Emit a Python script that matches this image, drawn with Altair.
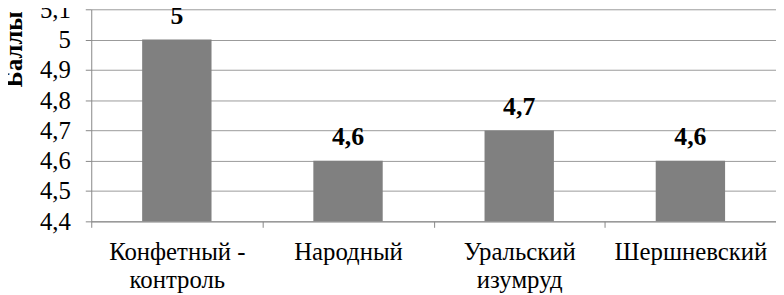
import altair as alt
import pandas as pd

categories = ["Конфетный -\nконтроль", "Народный", "Уральский\nизумруд", "Шершневский"]
values = [5.0, 4.6, 4.7, 4.6]
value_labels = ["5", "4,6", "4,7", "4,6"]
y_ticks = [4.4, 4.5, 4.6, 4.7, 4.8, 4.9, 5.0, 5.1]

df = pd.DataFrame({"cat": categories, "val": values, "lab": value_labels})

FONT = "Liberation Serif"

x_axis = alt.Axis(
    title=None,
    labelAngle=0,
    labelExpr="split(datum.label, '\\n')",
    labelLineHeight=29,
    labelPadding=12,
    labelBaseline="top",
    labelOverlap=False,
    labelSeparation=-10,
    tickBand="extent",
    grid=False,
)

y_axis = alt.Axis(
    title="Баллы",
    titleAngle=-90,
    titleX=-70,
    titleY=40,
    titleAlign="center",
    titleBaseline="alphabetic",
    values=y_ticks,
    labelExpr="replace(format(datum.value, '.1~f'), '.', ',')",
    labelPadding=15,
    labelOverlap=False,
    labelSeparation=-12,
    labelFlush=False,
    gridColor="#9a9a9a",
    gridWidth=1,
)

x_scale = alt.Scale(paddingInner=0, paddingOuter=0)
y_scale = alt.Scale(domain=[4.4, 5.1], nice=False, zero=False)

bars = alt.Chart(df).mark_bar(color="#808080", size=70, clip=True).encode(
    x=alt.X("cat:N", sort=categories, scale=x_scale, axis=x_axis),
    y=alt.Y("val:Q", scale=y_scale, axis=y_axis),
)

texts = alt.Chart(df).mark_text(
    baseline="alphabetic", dy=-16
).encode(
    x=alt.X("cat:N", sort=categories, scale=x_scale, axis=x_axis),
    y=alt.Y("val:Q", scale=y_scale, axis=y_axis),
    text="lab:N",
)

chart = (
    alt.layer(bars, texts)
    .properties(
        width=691,
        height=214,
        background="white",
        autosize=alt.AutoSizeParams(type="none"),
        padding={"left": 84, "top": 0, "right": 0, "bottom": 73},
    )
    .configure_view(stroke=None)
    .configure_axis(
        labelFont=FONT,
        labelFontSize=25,
        labelColor="black",
        labelOverlap=False,
        labelFlush=False,
        labelBound=False,
        tickSize=6,
        tickColor="#888888",
        domainColor="#888888",
        titleFont=FONT,
        titleFontSize=25,
        titleFontWeight="bold",
        titleColor="black",
    )
    .configure_text(
        font=FONT, fontSize=26, fontWeight="bold", color="black"
    )
)

chart.save("out.html", embed_options={"renderer": "svg", "actions": False})
